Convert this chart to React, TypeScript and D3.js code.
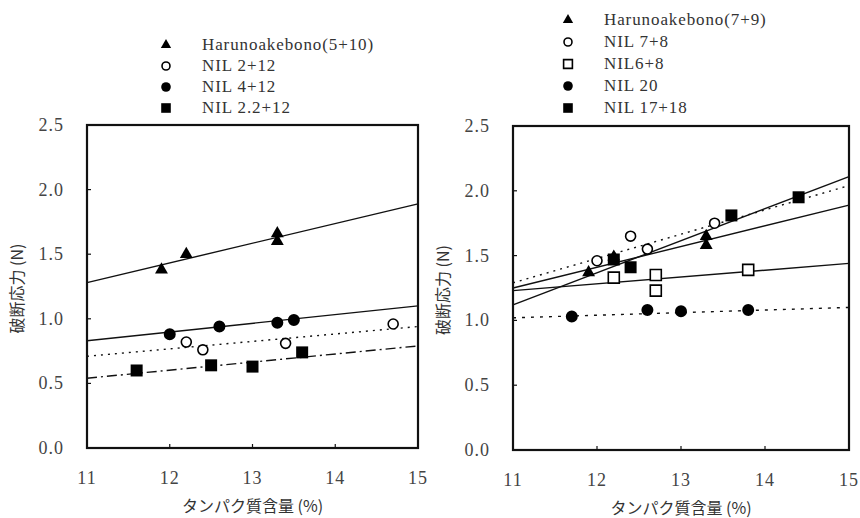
import React from "react";
import * as d3 from "d3";

// axis ticks
const xTicks = [11, 12, 13, 14, 15];
const yTicks = [0, 0.5, 1.0, 1.5, 2.0, 2.5];
const xTitle = "タンパク質含量 (%)";
const yTitle = "破断応力 (N)";

// left panel
const leftNames = ["Harunoakebono(5+10)", "NIL 2+12", "NIL 4+12", "NIL 2.2+12"];
const leftX = [
  [11.9, 12.2, 13.3, 13.3],
  [12.2, 12.4, 13.4, 14.7],
  [12.0, 12.6, 13.3, 13.5],
  [11.6, 12.5, 13.0, 13.6],
];
const leftY = [
  [1.38, 1.50, 1.66, 1.60],
  [0.82, 0.76, 0.81, 0.96],
  [0.88, 0.94, 0.97, 0.99],
  [0.60, 0.64, 0.63, 0.74],
];
const leftFitAt11 = [1.28, 0.71, 0.83, 0.54];
const leftFitAt15 = [1.89, 0.94, 1.10, 0.79];

// right panel
const rightNames = ["Harunoakebono(7+9)", "NIL 7+8", "NIL6+8", "NIL 20", "NIL 17+18"];
const rightX = [
  [11.9, 12.2, 13.3, 13.3],
  [12.0, 12.4, 12.6, 13.4],
  [12.2, 12.7, 12.7, 13.8],
  [11.7, 12.6, 13.0, 13.8],
  [12.2, 12.4, 13.6, 14.4],
];
const rightY = [
  [1.37, 1.49, 1.65, 1.58],
  [1.46, 1.65, 1.55, 1.75],
  [1.33, 1.35, 1.23, 1.39],
  [1.03, 1.08, 1.07, 1.08],
  [1.47, 1.41, 1.81, 1.95],
];
const rightFitAt11 = [1.25, 1.29, 1.23, 1.02, 1.12];
const rightFitAt15 = [1.89, 2.04, 1.44, 1.10, 2.11];

// styles
const leftMarkers = ["triangle", "circleOpen", "circle", "square"];
const leftDash = [null, "2,5", null, "10,4,2,4"];
const rightMarkers = ["triangle", "circleOpen", "squareOpen", "circle", "square"];
const rightDash = [null, "2,5", null, "3,6", null];

const serif = "'Liberation Serif', 'Times New Roman', serif";
const cjk = "'Noto Sans CJK JP', sans-serif";

function Marker({ kind, x, y, scale = 1 }) {
  let type = d3.symbolCircle;
  let size = 113;
  let open = false;
  if (kind === "triangle") { type = d3.symbolTriangle; size = 72; }
  if (kind === "square") { type = d3.symbolSquare; size = 144; }
  if (kind === "squareOpen") { type = d3.symbolSquare; size = 121; open = true; }
  if (kind === "circleOpen") { size = 78; open = true; }
  const path = d3.symbol().type(type).size(size * scale * scale)();
  return (
    <path
      d={path}
      transform={`translate(${x},${y})`}
      fill={open ? "#fff" : "#000"}
      stroke="#000"
      strokeWidth={open ? 1.6 : 0}
    />
  );
}

function Panel({ left, right, top, bottom, names, xs, ys, fitA, fitB, markers, dashes, legendX, legendY, legendStep, titleX }) {
  const x = d3.scaleLinear().domain([11, 15]).range([left, right]);
  const y = d3.scaleLinear().domain([0, 2.5]).range([bottom, top]);
  const line = d3.line<[number, number]>().x((d) => x(d[0])).y((d) => y(d[1]));

  return (
    <g>
      {/* legend */}
      {names.map((n, i) => (
        <g key={"lg" + i}>
          <Marker kind={markers[i]} x={legendX} y={legendY + i * legendStep} scale={0.8} />
          <text x={legendX + 36} y={legendY + i * legendStep + 5} fontFamily={serif} fontSize={17} letterSpacing={0.9} fill="#333">{n}</text>
        </g>
      ))}

      {/* fits */}
      {names.map((n, i) => (
        <path
          key={"fit" + i}
          d={line([[11, fitA[i]], [15, fitB[i]]])}
          fill="none"
          stroke="#111"
          strokeWidth={1.4}
          strokeDasharray={dashes[i] || undefined}
        />
      ))}

      {/* points */}
      {names.map((n, i) =>
        xs[i].map((v, j) => <Marker key={`p${i}-${j}`} kind={markers[i]} x={x(v)} y={y(ys[i][j])} />)
      )}

      {/* frame */}
      <rect x={left} y={top} width={right - left} height={bottom - top} fill="none" stroke="#111" strokeWidth={2.2} />
      {yTicks.slice(1, -1).map((t) => (
        <line key={"yt" + t} x1={left} x2={left + 4} y1={y(t)} y2={y(t)} stroke="#111" strokeWidth={1.2} />
      ))}
      {xTicks.slice(1, -1).map((t) => (
        <line key={"xt" + t} x1={x(t)} x2={x(t)} y1={bottom} y2={bottom - 4} stroke="#111" strokeWidth={1.2} />
      ))}

      {/* tick labels */}
      {yTicks.map((t) => (
        <text key={"yl" + t} x={left - 23} y={y(t) + 6} textAnchor="end" fontFamily={serif} fontSize={18} letterSpacing={1} fill="#444">
          {d3.format(".1f")(t)}
        </text>
      ))}
      {xTicks.map((t) => (
        <text key={"xl" + t} x={x(t)} y={bottom + 36} textAnchor="middle" fontFamily={serif} fontSize={18} letterSpacing={1} fill="#444">
          {t}
        </text>
      ))}

      {/* axis titles */}
      <text x={(left + right) / 2} y={bottom + 64} textAnchor="middle" fontFamily={cjk} fontSize={16} fill="#333">
        {xTitle}
      </text>
      <text
        transform={`translate(${titleX},${(top + bottom) / 2 + 2}) rotate(-90)`}
        textAnchor="middle"
        fontFamily={cjk}
        fontSize={16}
        fill="#333"
      >
        {yTitle}
      </text>
    </g>
  );
}

export default function App() {
  return (
    <svg width={860} height={518} style={{ position: "absolute", left: 0, top: 0, background: "#fff" }}>
      <Panel
        left={87} right={418} top={125} bottom={448}
        names={leftNames} xs={leftX} ys={leftY} fitA={leftFitAt11} fitB={leftFitAt15}
        markers={leftMarkers} dashes={leftDash}
        legendX={166} legendY={45} legendStep={21} titleX={23}
      />
      <Panel
        left={513} right={849} top={126} bottom={450}
        names={rightNames} xs={rightX} ys={rightY} fitA={rightFitAt11} fitB={rightFitAt15}
        markers={rightMarkers} dashes={rightDash}
        legendX={568} legendY={20} legendStep={22} titleX={449}
      />
    </svg>
  );
}
